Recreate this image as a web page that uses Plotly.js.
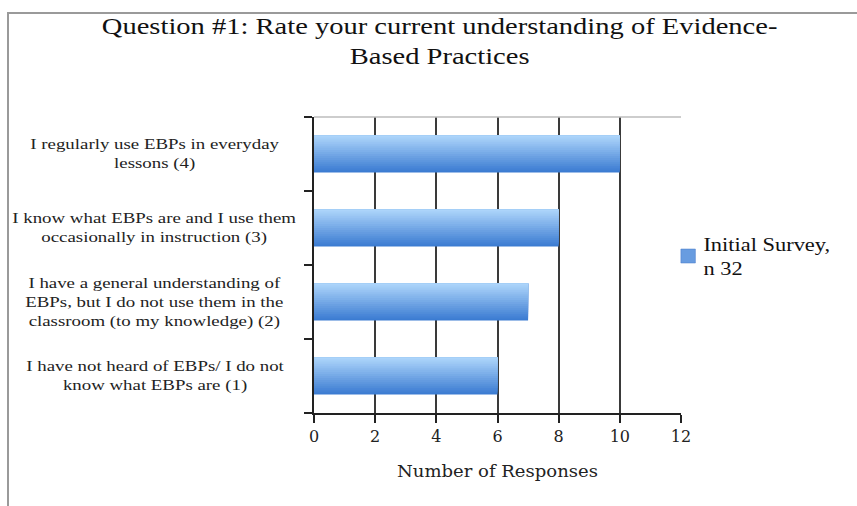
<!DOCTYPE html>
<html>
<head>
<meta charset="utf-8">
<script src="https://cdn.plot.ly/plotly-3.0.1.min.js"></script>
<style>
  html, body { margin: 0; padding: 0; background: #fff; }
  #wrap { position: relative; width: 857px; height: 506px; overflow: hidden; }
  #chart { width: 857px; height: 506px; }
  #frame { position: absolute; left: 7px; top: 12px; right: -2px; bottom: -2px;
           border-left: 2px solid #9a9a9a; border-top: 2px solid #9a9a9a; pointer-events: none; }
</style>
</head>
<body>
<div id="wrap">
  <div id="chart"></div>
  <div id="frame"></div>
</div>
<script>
// ---- data (bottom to top) ----
const categories = [
  "I have not heard of EBPs/ I do not<br>know what EBPs are (1)",
  "I have a general understanding of<br>EBPs, but I do not use them in the<br>classroom (to my knowledge) (2)",
  "I know what EBPs are and I use them<br>occasionally in instruction (3)",
  "I regularly use EBPs in everyday<br>lessons (4)"
];
const responses = [6, 7, 8, 10];
const seriesName = "Initial Survey,<br>n 32";
const xTicks = [0, 2, 4, 6, 8, 10, 12];
const chartTitle = "Question #1: Rate your current understanding of Evidence-<br>Based Practices";
const xTitle = "Number of Responses";

// ---- gradient strips for each bar (same data, stacked overlays) ----
const barWidth = 0.5;
const steps = 18;
const cBottom = [60, 124, 210];
const cTop = [172, 212, 250];
function mix(t) {
  const c = cBottom.map((b, i) => Math.round(b + (cTop[i] - b) * t));
  return `rgb(${c[0]},${c[1]},${c[2]})`;
}
const traces = [];
for (let i = 0; i < steps; i++) {
  const t = i / (steps - 1);
  const off = -barWidth / 2 + (barWidth * i) / steps;
  traces.push({
    type: "bar",
    orientation: "h",
    y: categories,
    x: responses,
    width: barWidth - (barWidth * i) / steps,
    offset: off,
    marker: { color: mix(t), line: { width: 0 } },
    showlegend: false,
    hoverinfo: "skip"
  });
}
// legend entry
traces.push({
  type: "bar", orientation: "h", y: [categories[0]], x: [null],
  name: seriesName, marker: { color: "rgb(104,156,224)", line: { width: 0.5, color: "rgb(70,120,200)" } },
  showlegend: true, hoverinfo: "skip"
});

const serif = "Liberation Serif, Times New Roman, serif";
const serif2 = "DejaVu Serif, serif";

const annotations = categories.map((c) => ({
  xref: "paper", yref: "y", x: -0.434, y: c,
  text: c, showarrow: false, xanchor: "center", yanchor: "middle", align: "center",
  font: { family: serif, size: 14.5, color: "#222" }
}));

const layout = {
  width: 857, height: 506,
  margin: { l: 314, r: 176, t: 117, b: 93 },
  paper_bgcolor: "#fff", plot_bgcolor: "#fff",
  barmode: "overlay",
  hovermode: false,
  title: {
    text: chartTitle,
    font: { family: serif, size: 23, color: "#111" },
    x: 0.513, xref: "container", xanchor: "center",
    y: 0.933, yref: "container", yanchor: "middle"
  },
  xaxis: {
    range: [0, 12], tickvals: xTicks, ticktext: xTicks.map(String),
    showgrid: true, gridcolor: "#3a3a3a", gridwidth: 2,
    zeroline: false, showline: true, linecolor: "#222", linewidth: 2,
    ticks: "outside", ticklen: 8, tickwidth: 2, tickcolor: "#222",
    tickfont: { family: serif2, size: 16, color: "#222" },
    title: { text: xTitle, font: { family: serif2, size: 17.5, color: "#222" }, standoff: 20 },
    fixedrange: true
  },
  yaxis: {
    type: "category", categoryorder: "array", categoryarray: categories,
    showticklabels: false, showgrid: false, zeroline: false,
    showline: true, linecolor: "#222", linewidth: 2,
    ticks: "outside", tickson: "boundaries", ticklen: 8, tickwidth: 2, tickcolor: "#222",
    fixedrange: true
  },
  shapes: [{
    type: "line", xref: "paper", yref: "paper", x0: 0, x1: 1, y0: 1, y1: 1,
    line: { color: "#bdbdbd", width: 1.5 }
  }],
  legend: {
    x: 0.952, xanchor: "left", y: 0.53, yanchor: "middle",
    font: { family: serif, size: 18, color: "#111" },
    itemwidth: 30, bgcolor: "rgba(0,0,0,0)", tracegroupgap: 0,
    entrywidth: 180, entrywidthmode: "pixels"
  },
  annotations: annotations
};

// horizontally stretch text glyphs (the reference's lettering is wide)
function stretch(sel, f) {
  document.querySelectorAll(sel).forEach((t) => {
    const lines = t.querySelectorAll("tspan.line");
    const items = lines.length ? Array.from(lines) : [t];
    items.forEach((el) => {
      const w = el.getComputedTextLength();
      if (w > 0) {
        el.setAttribute("textLength", (w * f).toFixed(2));
        el.setAttribute("lengthAdjust", "spacingAndGlyphs");
      }
    });
  });
}

Plotly.newPlot("chart", traces, layout, { displayModeBar: false, staticPlot: true }).then(() => {
  stretch("#chart .gtitle", 1.24);
  stretch("#chart .annotation-text", 1.30);
  stretch("#chart .legendtext", 1.245);
  stretch("#chart .xtitle", 1.03);
  document.querySelectorAll("#chart .legend [clip-path]").forEach((e) => e.removeAttribute("clip-path"));
  // slightly larger legend swatch, as in the reference
  document.querySelectorAll("#chart .legendpoints path").forEach((p) => {
    p.setAttribute("d", "M12,7H-2.5V-7H12Z");
  });
});
</script>
</body>
</html>
